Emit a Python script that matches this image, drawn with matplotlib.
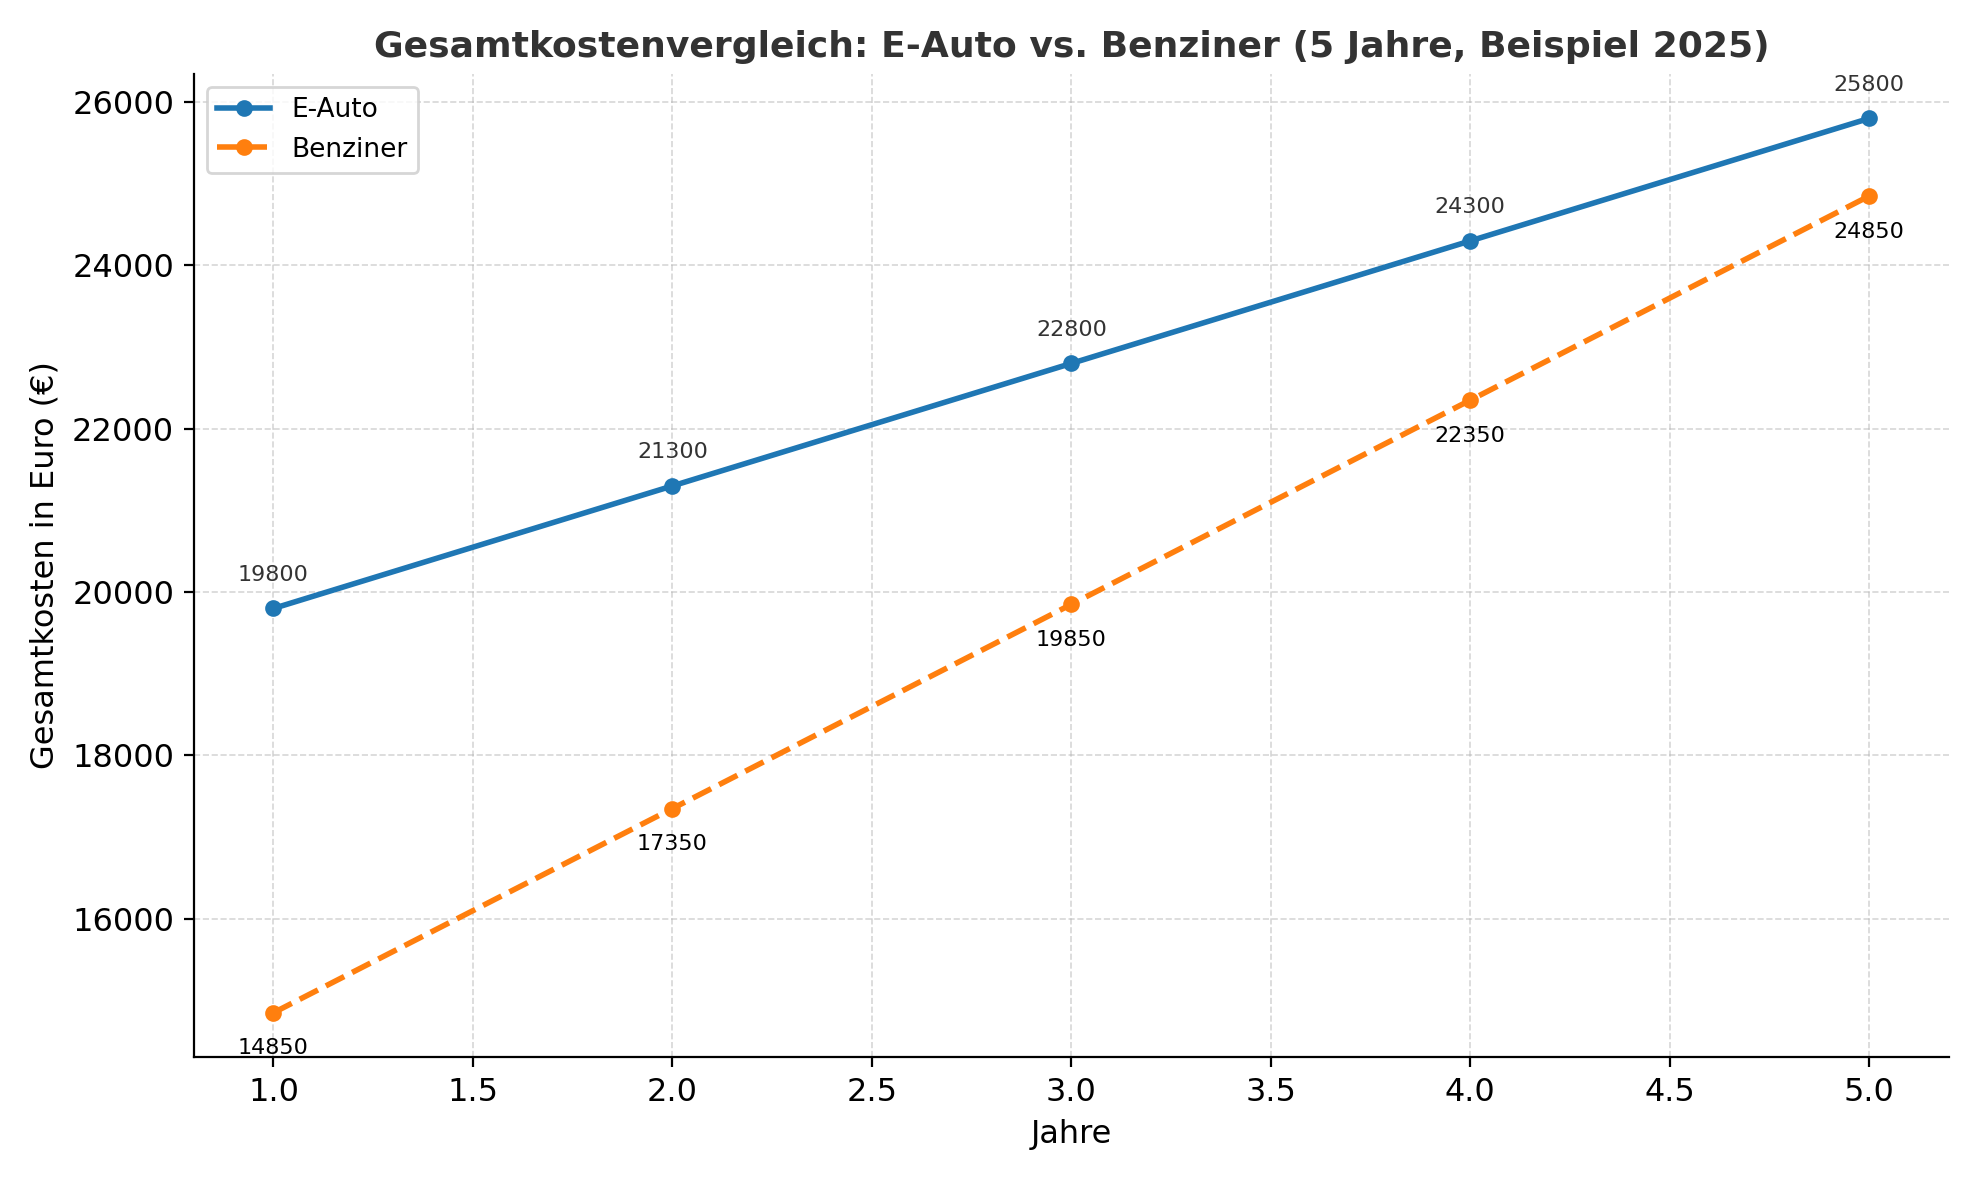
import matplotlib
matplotlib.use("Agg")
import matplotlib.pyplot as plt

jahre = [1, 2, 3, 4, 5]
e_auto = [19800, 21300, 22800, 24300, 25800]
benziner = [14850, 17350, 19850, 22350, 24850]

fig, ax = plt.subplots(figsize=(9.895, 5.9), dpi=200)
ax.plot(jahre, e_auto, marker='o', markersize=5, linestyle='-', linewidth=2, color='#1f77b4', label='E-Auto')
ax.plot(jahre, benziner, marker='o', markersize=5, linestyle='--', linewidth=2, color='#ff7f0e', label='Benziner')

for x, y in zip(jahre, e_auto):
    ax.annotate(f"{y}", (x, y), textcoords="offset points", xytext=(0, 10), ha='center', fontsize=8, color='#333333')
for x, y in zip(jahre, benziner):
    ax.annotate(f"{y}", (x, y), textcoords="offset points", xytext=(0, -15), ha='center', fontsize=8, color='black')

ax.set_title("Gesamtkostenvergleich: E-Auto vs. Benziner (5 Jahre, Beispiel 2025)", fontsize=13, fontweight='bold', color='#333333')
ax.set_xlabel("Jahre", fontsize=11.5)
ax.set_ylabel("Gesamtkosten in Euro (€)", fontsize=11.5)
ax.tick_params(labelsize=11.5)
ax.grid(True, linestyle='--', alpha=0.5, linewidth=0.6)
ax.spines['top'].set_visible(False)
ax.spines['right'].set_visible(False)
ax.legend(loc='upper left', fontsize=9.5)
fig.tight_layout()
fig.savefig("out.png", dpi=200)
